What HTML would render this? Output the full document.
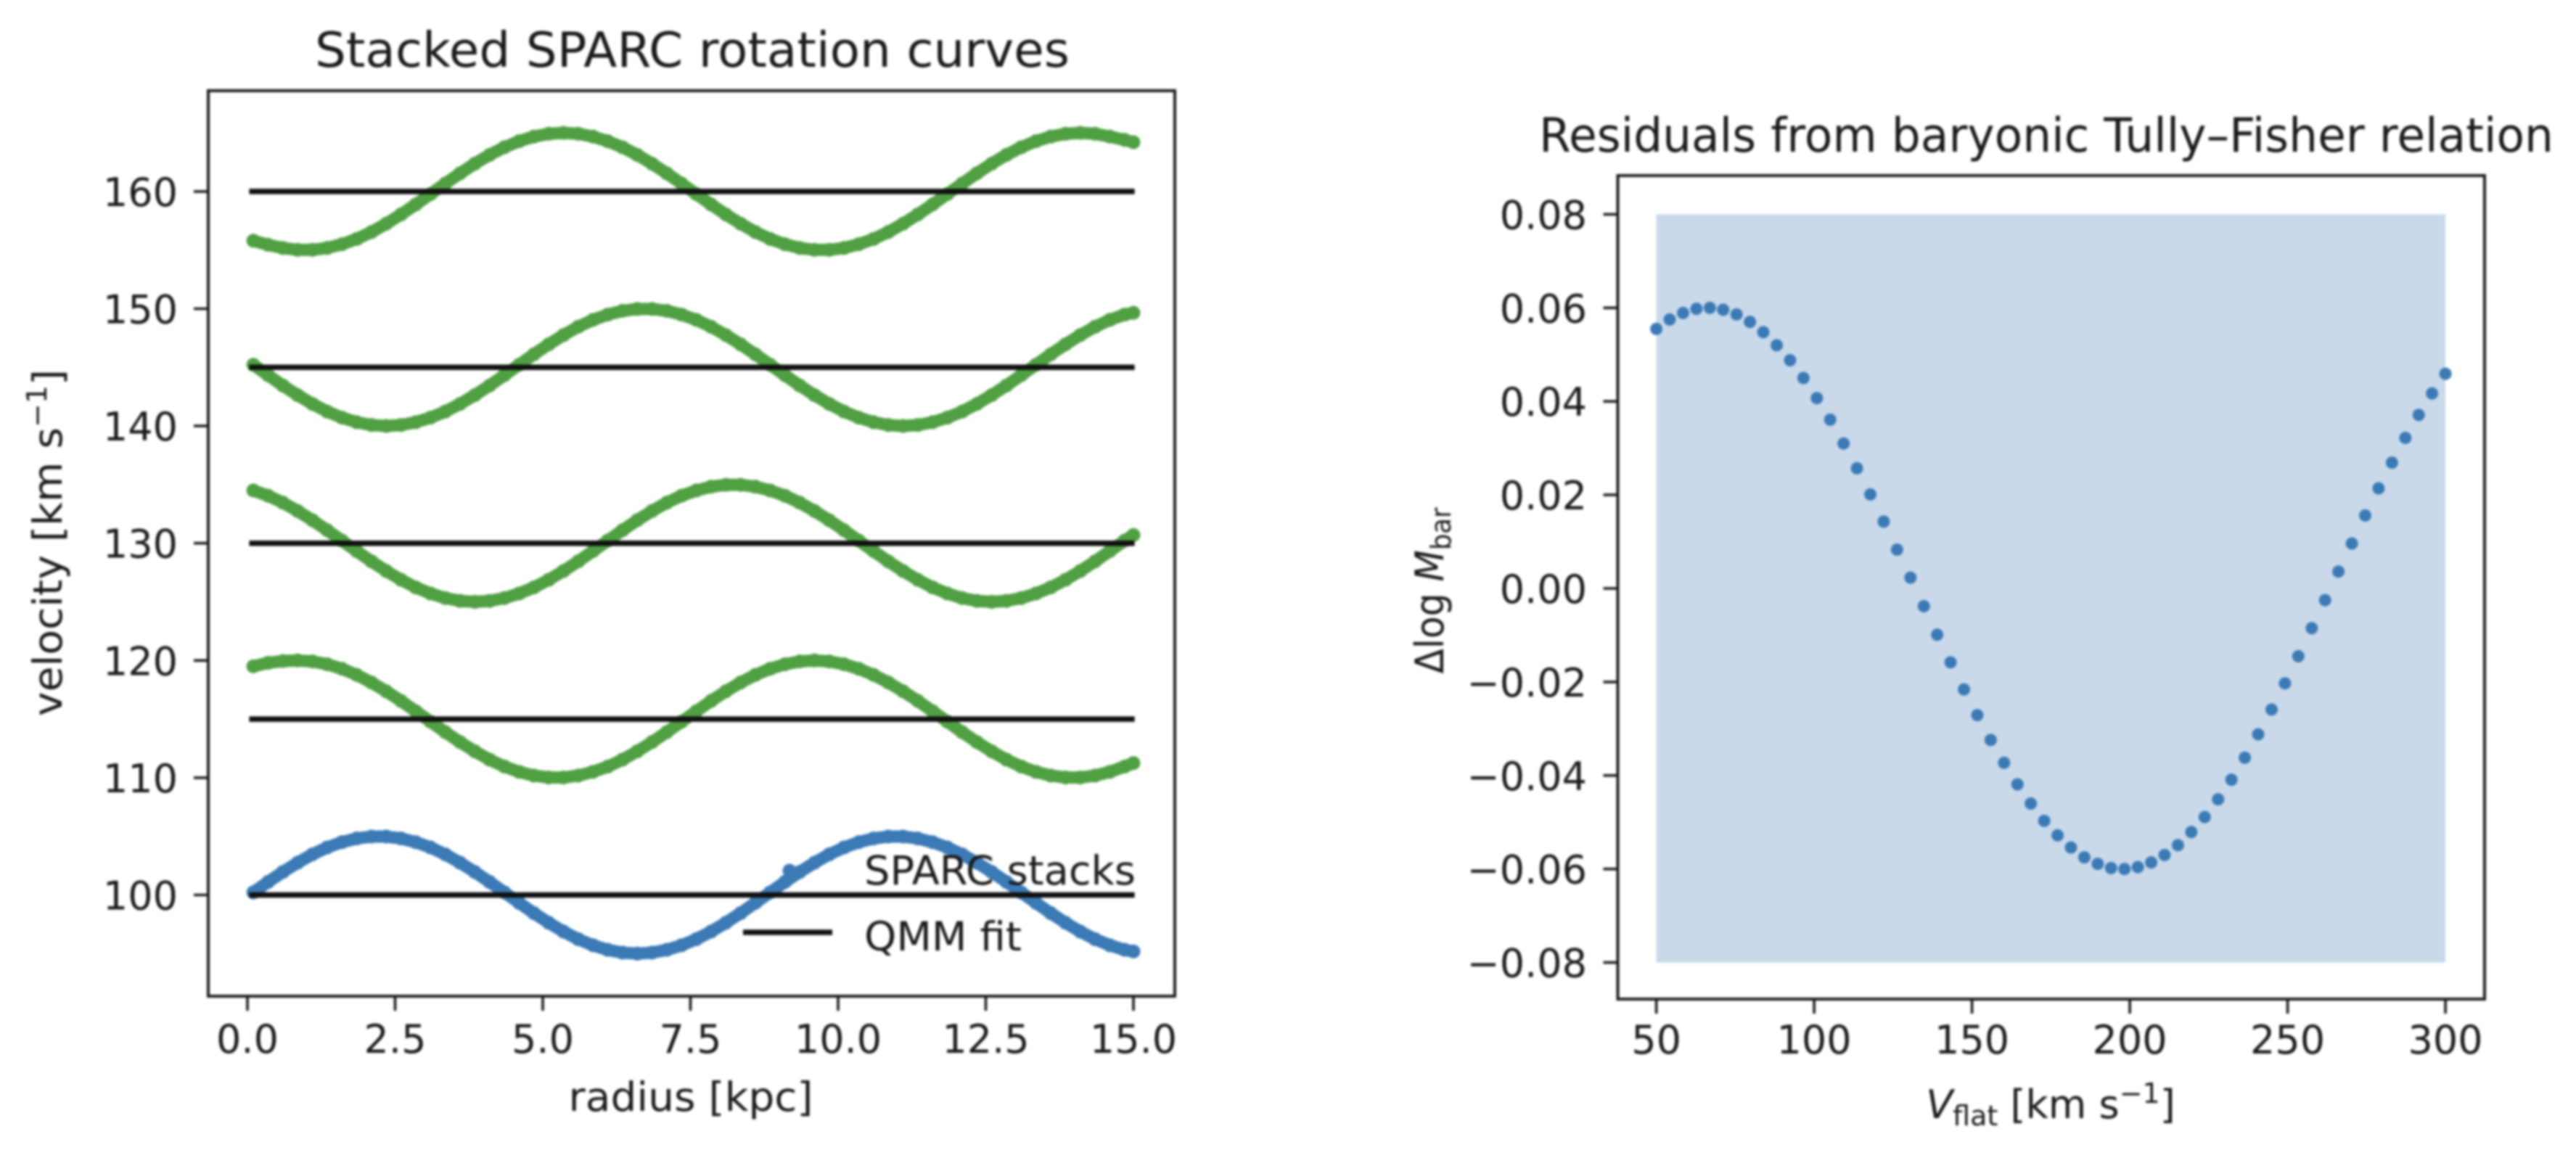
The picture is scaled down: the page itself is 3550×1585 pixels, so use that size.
<!DOCTYPE html>
<html lang="en">
<head>
<meta charset="utf-8">
<title>Stacked SPARC rotation curves and Tully-Fisher residuals</title>
<style>
html,body{margin:0;padding:0;background:#fff;width:3550px;height:1585px;overflow:hidden}
svg{display:block;filter:blur(1.5px)}
text{font-family:"DejaVu Sans","Liberation Sans",sans-serif;fill:#1a1a1a}
</style>
</head>
<body>
<svg id="fig" xmlns="http://www.w3.org/2000/svg" width="3550" height="1585" viewBox="0 0 3550 1585">
  <rect x="0" y="0" width="3550" height="1585" fill="#ffffff"/>
  <g id="left"></g>
  <g id="right"></g>
  <text x="954" y="92" font-size="67" text-anchor="middle" textLength="1040" lengthAdjust="spacingAndGlyphs">Stacked SPARC rotation curves</text>
  <text x="952" y="1531" font-size="55" text-anchor="middle" textLength="337" lengthAdjust="spacingAndGlyphs">radius [kpc]</text>
  <text transform="translate(85,748) rotate(-90)" font-size="55" text-anchor="middle" textLength="478" lengthAdjust="spacingAndGlyphs">velocity [km s<tspan font-size="38" dy="-21">−1</tspan><tspan dy="21">]</tspan></text>
  <text x="2820" y="209" font-size="65" text-anchor="middle" textLength="1398" lengthAdjust="spacingAndGlyphs">Residuals from baryonic Tully–Fisher relation</text>
  <text x="2826" y="1541" font-size="54" text-anchor="middle"><tspan font-style="italic">V</tspan><tspan font-size="38" dy="10">flat</tspan><tspan dy="-10"> [km s</tspan><tspan font-size="38" dy="-21">−1</tspan><tspan dy="21">]</tspan></text>
  <text transform="translate(1989,814) rotate(-90)" font-size="54" text-anchor="middle" textLength="229" lengthAdjust="spacingAndGlyphs">Δlog <tspan font-style="italic">M</tspan><tspan font-size="38" dy="10">bar</tspan></text>
  <g id="legend">
    <circle cx="1088" cy="1200" r="9.5" fill="#3b7ab5"/>
    <text x="1191" y="1219" font-size="55" textLength="374" lengthAdjust="spacingAndGlyphs">SPARC stacks</text>
    <line x1="1024" y1="1285" x2="1147" y2="1285" stroke="#111" stroke-width="7.5"/>
    <text x="1191" y="1310" font-size="55" textLength="217" lengthAdjust="spacingAndGlyphs">QMM fit</text>
  </g>
</svg>
<script>
const radius = [0.1,0.35,0.6,0.85,1.1,1.35,1.6,1.85,2.1,2.35,2.6,2.85,3.1,3.35,3.6,3.85,4.1,4.35,4.6,4.85,5.1,5.35,5.6,5.85,6.1,6.35,6.6,6.85,7.1,7.35,7.6,7.85,8.1,8.35,8.6,8.85,9.1,9.35,9.6,9.85,10.1,10.35,10.6,10.85,11.1,11.35,11.6,11.85,12.1,12.35,12.6,12.85,13.1,13.35,13.6,13.85,14.1,14.35,14.6,14.85,15.0];
const stack100 = [100.22,101.11,101.96,102.75,103.46,104.05,104.50,104.82,104.98,104.98,104.82,104.50,104.05,103.46,102.75,101.96,101.11,100.22,99.33,98.45,97.63,96.88,96.23,95.71,95.32,95.08,95.00,95.08,95.32,95.71,96.23,96.88,97.63,98.45,99.33,100.22,101.11,101.96,102.75,103.46,104.05,104.50,104.82,104.98,104.98,104.82,104.50,104.05,103.46,102.75,101.96,101.11,100.22,99.33,98.45,97.63,96.88,96.23,95.71,95.32,95.18];
const stack115 = [119.50,119.80,119.95,120.00,119.92,119.68,119.29,118.77,118.12,117.37,116.55,115.67,114.78,113.89,113.04,112.25,111.54,110.95,110.50,110.18,110.02,110.02,110.18,110.50,110.95,111.54,112.25,113.04,113.89,114.78,115.67,116.55,117.37,118.12,118.77,119.29,119.68,119.92,120.00,119.92,119.68,119.29,118.77,118.12,117.37,116.55,115.67,114.78,113.89,113.04,112.25,111.54,110.95,110.50,110.18,110.02,110.02,110.18,110.50,110.95,111.25];
const stack130 = [134.50,134.05,133.46,132.75,131.96,131.11,130.22,129.33,128.45,127.63,126.88,126.23,125.71,125.32,125.08,125.00,125.08,125.32,125.71,126.23,126.88,127.63,128.45,129.33,130.22,131.11,131.96,132.75,133.46,134.05,134.50,134.82,134.98,134.98,134.82,134.50,134.05,133.46,132.75,131.96,131.11,130.22,129.33,128.45,127.63,126.88,126.23,125.71,125.32,125.08,125.00,125.08,125.32,125.71,126.23,126.88,127.63,128.45,129.33,130.22,130.70];
const stack145 = [145.22,144.33,143.45,142.63,141.88,141.23,140.71,140.32,140.08,140.00,140.08,140.32,140.71,141.23,141.88,142.63,143.45,144.33,145.22,146.11,146.96,147.75,148.46,149.05,149.50,149.82,149.98,149.98,149.82,149.50,149.05,148.46,147.75,146.96,146.11,145.22,144.33,143.45,142.63,141.88,141.23,140.71,140.32,140.08,140.00,140.08,140.32,140.71,141.23,141.88,142.63,143.45,144.33,145.22,146.11,146.96,147.75,148.46,149.05,149.50,149.65];
const stack160 = [155.80,155.45,155.18,155.02,155.02,155.18,155.50,155.95,156.54,157.25,158.04,158.89,159.78,160.67,161.55,162.37,163.12,163.77,164.29,164.68,164.92,165.00,164.92,164.68,164.29,163.77,163.12,162.37,161.55,160.67,159.78,158.89,158.04,157.25,156.54,155.95,155.50,155.18,155.02,155.02,155.18,155.50,155.95,156.54,157.25,158.04,158.89,159.78,160.67,161.55,162.37,163.12,163.77,164.29,164.68,164.92,165.00,164.92,164.68,164.40,164.20];
const fitLevels = [100,115,130,145,160];
const fitRange = [0.03,15.02];
const xTicksLeft = [0,2.5,5,7.5,10,12.5,15];
const xTickLabelsLeft = ["0.0","2.5","5.0","7.5","10.0","12.5","15.0"];
const yTicksLeft = [100,110,120,130,140,150,160];
const yTickLabelsLeft = ["100","110","120","130","140","150","160"];

const vflat = [50,54.24,58.47,62.71,66.95,71.19,75.42,79.66,83.9,88.14,92.37,96.61,100.85,105.08,109.32,113.56,117.8,122.03,126.27,130.51,134.75,138.98,143.22,147.46,151.69,155.93,160.17,164.41,168.64,172.88,177.12,181.36,185.59,189.83,194.07,198.31,202.54,206.78,211.02,215.25,219.49,223.73,227.97,232.2,236.44,240.68,244.92,249.15,253.39,257.63,261.86,266.1,270.34,274.58,278.81,283.05,287.29,291.53,295.76,300];
const residual = [0.0555,0.0575,0.0589,0.0598,0.0600,0.0596,0.0586,0.0570,0.0548,0.0520,0.0488,0.0450,0.0407,0.0361,0.0310,0.0257,0.0201,0.0143,0.0083,0.0023,-0.0038,-0.0099,-0.0158,-0.0216,-0.0271,-0.0324,-0.0373,-0.0419,-0.0460,-0.0497,-0.0528,-0.0554,-0.0575,-0.0589,-0.0598,-0.0600,-0.0596,-0.0586,-0.0570,-0.0549,-0.0521,-0.0489,-0.0451,-0.0409,-0.0362,-0.0312,-0.0259,-0.0203,-0.0145,-0.0085,-0.0025,0.0036,0.0096,0.0156,0.0214,0.0269,0.0322,0.0371,0.0417,0.0459];
const bandX = [50,300];
const bandY = [-0.08,0.08];
const xTicksRight = [50,100,150,200,250,300];
const xTickLabelsRight = ["50","100","150","200","250","300"];
const yTicksRight = [-0.08,-0.06,-0.04,-0.02,0,0.02,0.04,0.06,0.08];
const yTickLabelsRight = ["−0.08","−0.06","−0.04","−0.02","0.00","0.02","0.04","0.06","0.08"];

const NS = "http://www.w3.org/2000/svg";
const BLUE = "#3b7ab5";
const GREEN = "#50a043";
const INK = "#1a1a1a";
const xL = v => 341 + v * 81.4;
const yL = v => 1233.5 - (v - 100) * 16.16;
const xR = v => 2282.6 + (v - 50) * 4.35;
const yR = v => 811 - v * 6445;
const left = document.getElementById("left");
const right = document.getElementById("right");

function make(parent, tag, props) {
  const el = document.createElementNS(NS, tag);
  for (const k in props) el.setAttribute(k, props[k]);
  parent.appendChild(el);
  return el;
}

function drawFrame(parent, box) {
  const el = make(parent, "rect", {x: box[0], y: box[1], width: box[2] - box[0], height: box[3] - box[1], fill: "none", stroke: INK, "stroke-width": 4});
  
  
}

function drawXTicks(parent, ticks, labels, xf, axisY, labelY) {
  ticks.forEach((t, i) => {
    const m = make(parent, "line", {x1: xf(t), x2: xf(t), y1: axisY, y2: axisY + 20, stroke: INK, "stroke-width": 3.6});
    
    
    const l = make(parent, "text", {x: xf(t), y: labelY, "font-size": 54, "text-anchor": "middle"});
    
    
    l.textContent = labels[i];
  });
}

function drawYTicks(parent, ticks, labels, yf, axisX, labelX) {
  ticks.forEach((t, i) => {
    const m = make(parent, "line", {x1: axisX - 20, x2: axisX, y1: yf(t), y2: yf(t), stroke: INK, "stroke-width": 3.6});
    
    
    const l = make(parent, "text", {x: labelX, y: yf(t) + 20, "font-size": 54, "text-anchor": "end"});
    
    
    l.textContent = labels[i];
  });
}

function drawStack(values, color, seriesName) {
  const g = make(left, "g", {fill: color});
  
  
  const pl = make(g, "polyline", {points: values.map((v, i) => xL(radius[i]) + "," + yL(v)).join(" "), fill: "none", stroke: color, "stroke-width": 17, "stroke-linejoin": "round"});
  
  
  values.forEach((v, i) => {
    const c = make(g, "circle", {cx: xL(radius[i]), cy: yL(v), r: 9.5});
    
    
  });
}

drawFrame(left, [287, 125, 1619, 1373]);
drawXTicks(left, xTicksLeft, xTickLabelsLeft, xL, 1373, 1451);
drawYTicks(left, yTicksLeft, yTickLabelsLeft, yL, 287, 245);
drawStack(stack160, GREEN, "stack-160");
drawStack(stack145, GREEN, "stack-145");
drawStack(stack130, GREEN, "stack-130");
drawStack(stack115, GREEN, "stack-115");
drawStack(stack100, BLUE, "stack-100");
fitLevels.forEach(level => {
  const ln = make(left, "line", {x1: xL(fitRange[0]), x2: xL(fitRange[1]), y1: yL(level), y2: yL(level), stroke: "#111", "stroke-width": 7.5});
  
  
});

const band = make(right, "rect", {x: xR(bandX[0]), y: yR(bandY[1]), width: xR(bandX[1]) - xR(bandX[0]), height: yR(bandY[0]) - yR(bandY[1]), fill: "#c9d9ea"});


drawFrame(right, [2229.5, 242, 3424, 1377]);
drawXTicks(right, xTicksRight, xTickLabelsRight, xR, 1377, 1452);
drawYTicks(right, yTicksRight, yTickLabelsRight, yR, 2229.5, 2187);
residual.forEach((v, i) => {
  const c = make(right, "circle", {cx: xR(vflat[i]), cy: yR(v), r: 8.5, fill: BLUE});
  
  
});
</script>
</body>
</html>
